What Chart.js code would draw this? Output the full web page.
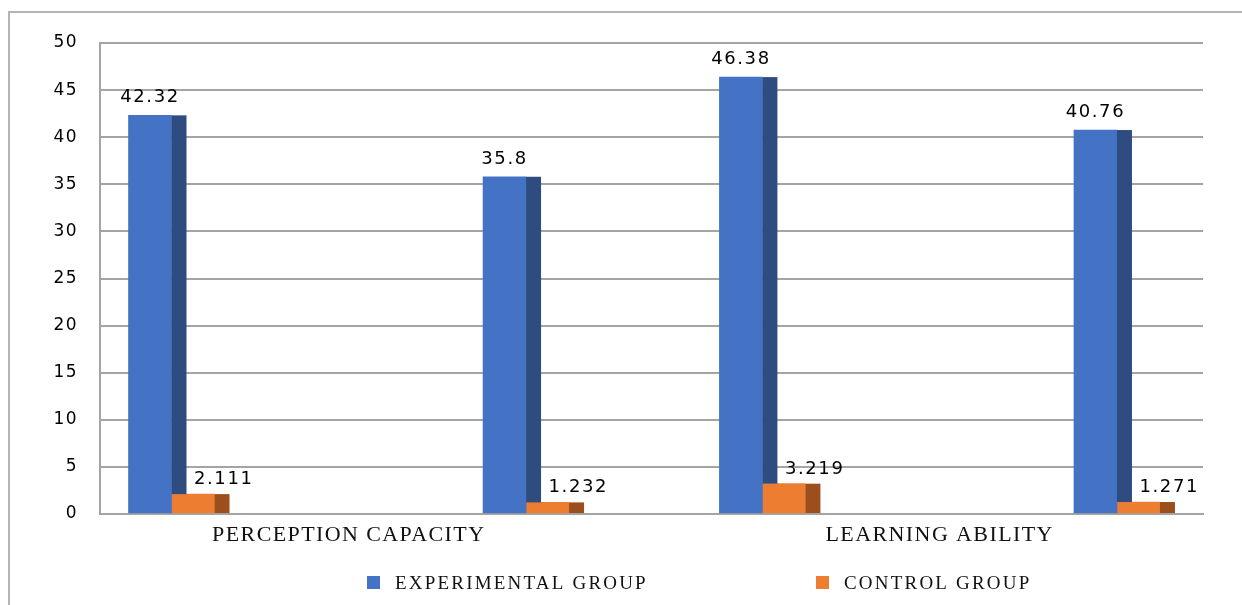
<!DOCTYPE html>
<html>
<head>
<meta charset="utf-8">
<script src="https://cdn.jsdelivr.net/npm/chart.js@4.4.1/dist/chart.umd.min.js"></script>
<style>
  html, body { margin: 0; padding: 0; background: #fff; }
  #wrap { position: relative; width: 1242px; height: 605px; overflow: hidden; }
  #frame { position: absolute; left: 8px; top: 11px; right: -4px; bottom: -4px;
           border-top: 2px solid #b4b4b4; border-left: 2px solid #b4b4b4; pointer-events: none; }
</style>
</head>
<body>
<div id="wrap">
  <canvas id="chart" width="1242" height="605"></canvas>
  <div id="frame"></div>
</div>
<script>
// values
const categories = ["PERCEPTION CAPACITY", "LEARNING ABILITY"];
const seriesNames = ["EXPERIMENTAL GROUP", "CONTROL GROUP"];
const experimental = [42.32, 35.8, 46.38, 40.76];
const control = [2.111, 1.232, 3.219, 1.271];
const yMax = 50;
const yStep = 5;

// layout: two bar groups per category, spaced unevenly like the original
const slots = [0, 3, 5, 8];
const faceColors = ["#4472C4", "#ED7D31"];
const sideColors = ["#2E4C80", "#9C4E1D"];
const SIDE = 15;
const GRID = "#a4a4a4";

const toPoints = arr => arr.map((v, i) => ({ x: slots[i], y: v }));

// darker right-hand side strip on each bar (the flat 3D look)
const sidePlugin = {
  id: "sides",
  afterDatasetsDraw(chart) {
    const ctx = chart.ctx;
    const blue = chart.getDatasetMeta(0).data;
    const orange = chart.getDatasetMeta(1).data;
    ctx.save();
    orange.forEach(bar => {
      const p = bar.getProps(["x", "y", "base", "width"], true);
      ctx.fillStyle = sideColors[1];
      ctx.fillRect(p.x + p.width / 2, p.y, SIDE, p.base - p.y);
    });
    blue.forEach((bar, i) => {
      const p = bar.getProps(["x", "y", "base", "width"], true);
      const stop = orange[i] ? orange[i].getProps(["y"], true).y : p.base;
      ctx.fillStyle = sideColors[0];
      ctx.fillRect(p.x + p.width / 2, p.y, SIDE, stop - p.y);
    });
    ctx.restore();
  }
};

// value labels above bars
const labelPlugin = {
  id: "valueLabels",
  afterDatasetsDraw(chart) {
    const ctx = chart.ctx;
    ctx.save();
    ctx.letterSpacing = "1.6px";
    ctx.font = "18px 'DejaVu Sans'";
    ctx.fillStyle = "#000";
    ctx.textBaseline = "alphabetic";
    chart.data.datasets.forEach((ds, di) => {
      chart.getDatasetMeta(di).data.forEach((bar, i) => {
        const p = bar.getProps(["x", "y"], true);
        const txt = String(ds.data[i].y);
        if (di === 0) {
          ctx.textAlign = "center";
          ctx.fillText(txt, p.x, p.y - 13);
        } else {
          ctx.textAlign = "left";
          ctx.fillText(txt, p.x + 1, p.y - 10);
        }
      });
    });
    ctx.restore();
  }
};

// legend row at the bottom
const legendPlugin = {
  id: "bottomLegend",
  afterDraw(chart) {
    const ctx = chart.ctx;
    const xs = [367, 816];
    ctx.save();
    ctx.font = "19px 'Liberation Serif'";
    ctx.letterSpacing = "2.2px";
    ctx.textAlign = "left";
    ctx.textBaseline = "alphabetic";
    chart.data.datasets.forEach((ds, i) => {
      ctx.fillStyle = ds.backgroundColor;
      ctx.fillRect(xs[i], 576, 13, 13);
      ctx.fillStyle = "#111";
      ctx.fillText(ds.label, xs[i] + 28, 589);
    });
    ctx.restore();
  }
};

const spacingPlugin = {
  id: "spacing",
  beforeDraw(chart) { chart.ctx.letterSpacing = "1.4px"; }
};

new Chart(document.getElementById("chart"), {
  type: "bar",
  data: {
    datasets: [
      { label: seriesNames[0], data: toPoints(experimental), backgroundColor: faceColors[0] },
      { label: seriesNames[1], data: toPoints(control), backgroundColor: faceColors[1] }
    ]
  },
  options: {
    responsive: false,
    animation: false,
    barThickness: 43,
    layout: { padding: { left: 0, right: 39, top: 43, bottom: 0 } },
    plugins: { legend: { display: false }, tooltip: { enabled: false } },
    scales: {
      x: {
        type: "linear",
        offset: false,
        min: -0.605,
        max: 8.728,
        afterBuildTicks(scale) {
          scale.ticks = categories.map((c, i) => ({ value: (slots[2 * i] + slots[2 * i + 1]) / 2 }));
        },
        afterFit(scale) { scale.height = 91; },
        grid: { display: false, drawTicks: false, offset: false },
        border: { display: true, color: GRID, width: 2 },
        ticks: {
          autoSkip: false,
          maxRotation: 0,
          padding: 8,
          color: "#111",
          font: { family: "'Liberation Serif'", size: 22 },
          callback: (v, i) => categories[i]
        }
      },
      y: {
        min: 0,
        max: yMax,
        afterFit(scale) { scale.width = 100; },
        grid: { color: GRID, lineWidth: 2, drawTicks: false },
        border: { display: true, color: GRID, width: 2 },
        ticks: {
          stepSize: yStep,
          padding: 22,
          color: "#000",
          font: { family: "'DejaVu Sans'", size: 17 }
        }
      }
    }
  },
  plugins: [spacingPlugin, sidePlugin, labelPlugin, legendPlugin]
});
</script>
</body>
</html>
